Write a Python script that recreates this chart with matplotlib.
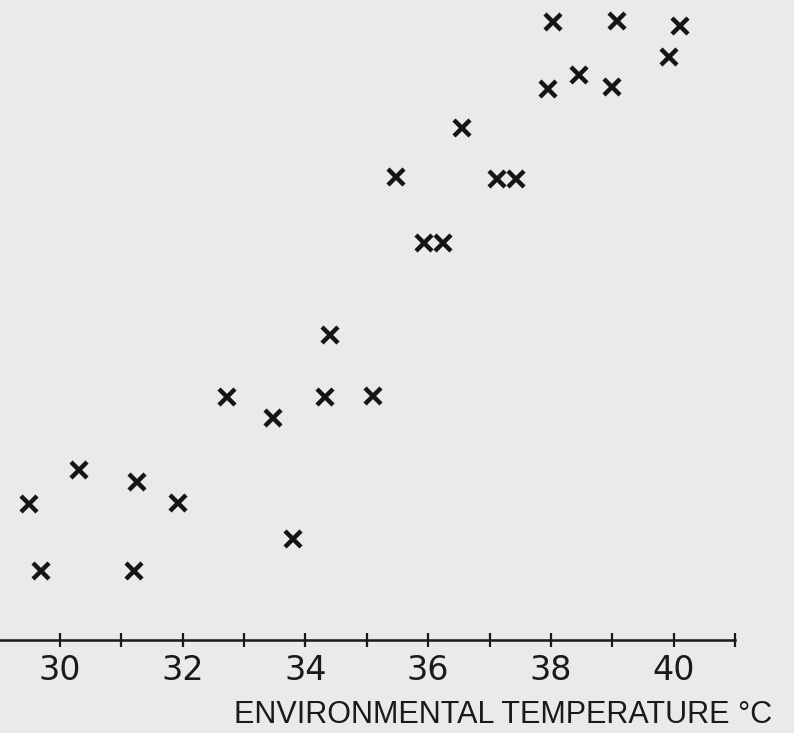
import matplotlib.pyplot as plt

# environmental temperature (deg C) and response for each observation
temperature = [29.50, 29.69, 30.31, 31.21, 31.25, 31.92, 32.72, 33.47, 33.79,
               34.32, 34.40, 35.10, 35.47, 35.94, 36.24, 36.55, 37.12, 37.43,
               37.95, 38.03, 38.45, 38.99, 39.07, 39.93, 40.11]
response = [13.6, 6.9, 17.0, 6.9, 15.8, 13.7, 24.3, 22.2, 10.1,
            24.3, 30.5, 24.4, 46.3, 39.7, 39.7, 51.2, 46.1, 46.1,
            55.1, 61.8, 56.5, 55.3, 61.9, 58.3, 61.4]

major_ticks = list(range(30, 42))
tick_labels = [str(t) if t % 2 == 0 and t <= 40 else "" for t in major_ticks]

bg = "#eaeaea"
fig = plt.figure(figsize=(7.94, 7.33), dpi=100, facecolor=bg)
ax = fig.add_axes([0, 93 / 733, 735 / 794, 640 / 733])
ax.set_facecolor(bg)

ax.plot(temperature, response, linestyle="none", marker="x",
        markersize=12, markeredgewidth=3.2, color="#151515")

ax.set_xlim(30 - 60 / 61.4, 41)
ax.set_ylim(0, 64)

for side in ["left", "right", "top"]:
    ax.spines[side].set_visible(False)
ax.spines["bottom"].set_linewidth(1.8)
ax.spines["bottom"].set_color("#1a1a1a")

ax.set_yticks([])
ax.set_xticks(major_ticks)
ax.set_xticklabels(tick_labels, fontsize=24, color="#1a1a1a")
ax.tick_params(axis="x", direction="inout", length=10, width=1.6,
               color="#1a1a1a", pad=5)

fig.text(503 / 794, 1 - 715 / 733, "ENVIRONMENTAL TEMPERATURE °C",
         ha="center", va="center", fontsize=22, family="Liberation Sans",
         color="#1a1a1a")

fig.savefig("out.png", dpi=100, facecolor=bg)
